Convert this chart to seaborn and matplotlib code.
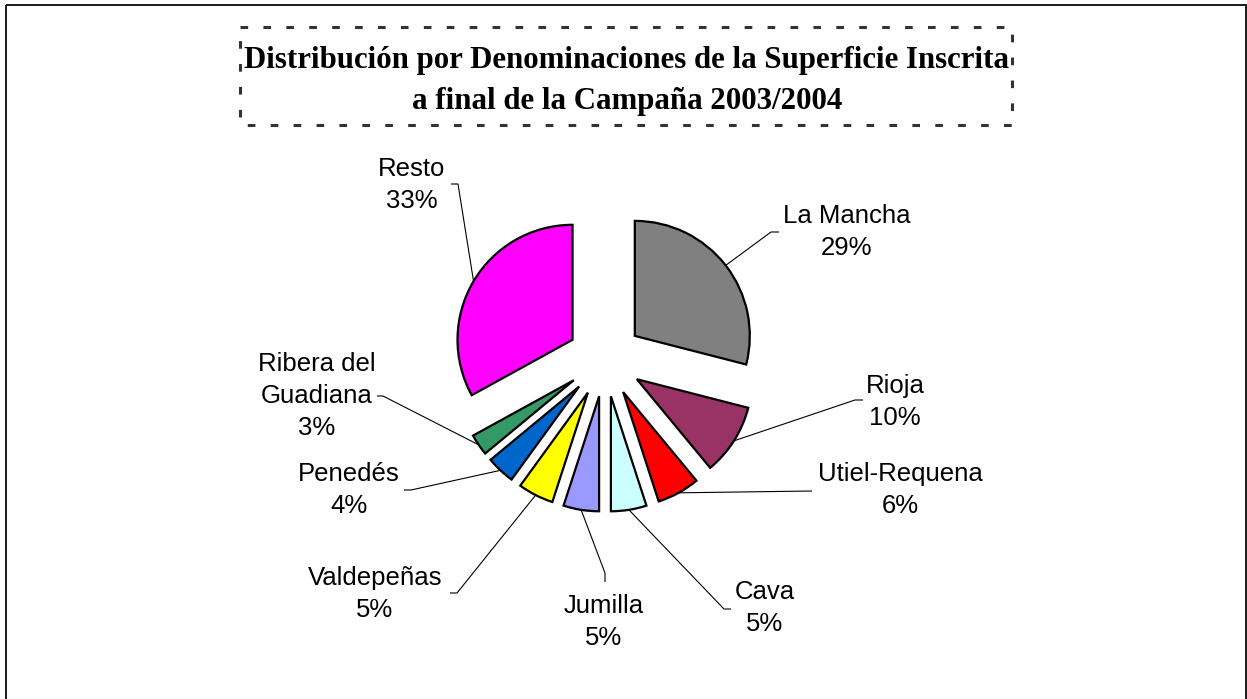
import numpy as np
import matplotlib
matplotlib.use("Agg")
import matplotlib.pyplot as plt
import seaborn as sns
from matplotlib.patches import Rectangle

# datos de la campaña 2003/2004 (% de superficie inscrita)
denominaciones = ['La Mancha', 'Rioja', 'Utiel-Requena', 'Cava', 'Jumilla',
                  'Valdepeñas', 'Penedés', 'Ribera del\nGuadiana', 'Resto']
porcentajes = [29, 10, 6, 5, 5, 5, 4, 3, 33]
colores = ['#808080', '#993366', '#FF0000', '#CCFFFF', '#9999FF',
           '#FFFF00', '#0066CC', '#339966', '#FF00FF']

titulo = ('Distribución por Denominaciones de la Superficie Inscrita\n'
          'a final de la Campaña 2003/2004')

# posiciones de etiquetas en pixeles (centro del texto, codo, final de la guia)
pos_etiquetas = [(847, 232), (895, 402), (900, 490), (765, 608), (604, 622),
                 (375, 594), (349, 490), (317, 396), (412, 185)]
guias = [((771, 232), (779, 232)), ((855, 400), (863, 400)),
         ((812, 491), (812, 491)), ((724, 609), (731, 609)),
         ((605, 573), (605, 582)), ((457, 593), (450, 593)),
         ((411, 490), (404, 490)), ((383, 396), (377, 396)),
         ((458, 184), (451, 184))]

sns.set_theme(style='white')
plt.rcParams['font.family'] = ['Liberation Sans', 'DejaVu Sans']

W, H = 1247, 699
CX, CY, R = 605, 359, 115

fig = plt.figure(figsize=(W / 100, H / 100), dpi=100)
fig.patch.set_facecolor('white')

# ejes de la tarta: 1 unidad = R pixeles
ax = fig.add_axes([0, 0, 1, 1])
wedges, _ = ax.pie(porcentajes, colors=colores, startangle=90, counterclock=False,
                   explode=[0.328] * len(porcentajes),
                   wedgeprops=dict(edgecolor='black', linewidth=1.6))
ax.set_aspect('auto')
ax.set_xlim(-CX / R, (W - CX) / R)
ax.set_ylim(-(H - CY) / R, CY / R)
ax.axis('off')

# capa superpuesta en pixeles (y hacia abajo)
ov = fig.add_axes([0, 0, 1, 1])
ov.set_xlim(0, W)
ov.set_ylim(H, 0)
ov.axis('off')

a_px = lambda p: ov.transData.inverted().transform(ax.transData.transform(p))

for w, nombre, pct, (tx, ty), (codo, fin) in zip(wedges, denominaciones, porcentajes,
                                                   pos_etiquetas, guias):
    ang = np.deg2rad((w.theta1 + w.theta2) / 2)
    p0 = a_px((w.center[0] + w.r * np.cos(ang), w.center[1] + w.r * np.sin(ang)))
    ov.plot([p0[0], codo[0], fin[0]], [p0[1], codo[1], fin[1]],
            color='black', lw=0.8, solid_capstyle='butt')
    ov.text(tx, ty, f'{nombre}\n{pct}%', ha='center', va='center',
            fontsize=18.5, linespacing=1.42, color='black')

# titulo con recuadro discontinuo
ov.text(627, 81, titulo, ha='center', va='center', fontsize=22.2, fontweight='bold',
        family=['Liberation Serif', 'DejaVu Serif'], linespacing=1.55, color='black')
ov.add_patch(Rectangle((240, 27), 772, 98, fill=False, edgecolor='#333333',
                       lw=2.2, linestyle=(0, (2.5, 5))))

# borde del area del grafico
ov.add_patch(Rectangle((6, 5), 1240, 710, fill=False, edgecolor='#1a1a1a',
                       lw=1.4, clip_on=False))

fig.savefig('out.png', dpi=100)
